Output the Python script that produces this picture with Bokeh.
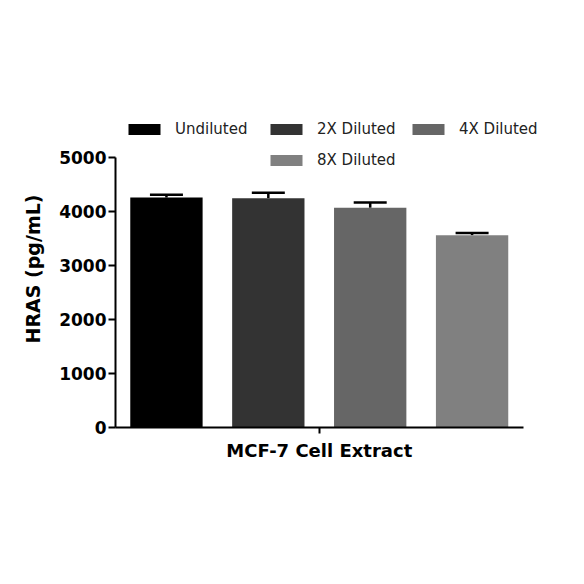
from bokeh.plotting import figure
from bokeh.models import (ColumnDataSource, Range1d, FixedTicker, Whisker, TeeHead,
                          Legend, LegendItem)
from bokeh.embed import file_html
from bokeh.resources import INLINE

series = ["Undiluted", "2X Diluted", "4X Diluted", "8X Diluted"]
values = [4260, 4245, 4070, 3560]
errors = [50, 100, 95, 40]
colors = ["#000000", "#333333", "#666666", "#808080"]
group_label = "MCF-7 Cell Extract"
y_ticks = [0, 1000, 2000, 3000, 4000, 5000]
y_title = "HRAS (pg/mL)"

FONT = "DejaVu Sans"

n = len(series)
xs = [i + 0.5 for i in range(n)]
src = ColumnDataSource(dict(
    x=xs, top=values, upper=[v + e for v, e in zip(values, errors)],
    color=colors, name=series))

p = figure(width=568, height=568, output_backend="svg", toolbar_location=None,
           x_range=Range1d(0, n + 0.25), y_range=Range1d(0, 5870),
           min_border_left=115, min_border_right=20, min_border_top=110,
           min_border_bottom=141)
p.outline_line_color = None
p.xgrid.visible = False
p.ygrid.visible = False

bars = []
for i in range(n):
    r = p.vbar(x=[xs[i]], top=[values[i]], width=0.71, bottom=0,
               fill_color=colors[i], line_color=None)
    bars.append(r)

w = Whisker(source=src, base="x", upper="upper", lower="top", dimension="height",
            line_color="black", line_width=2.5, lower_head=None,
            upper_head=TeeHead(size=33, line_color="black", line_width=2.5))
p.add_layout(w)

# y axis
ya = p.yaxis[0]
ya.ticker = FixedTicker(ticks=y_ticks)
ya.bounds = (0, 5000)
ya.axis_line_width = 2
ya.major_tick_line_width = 2
ya.major_tick_out = 7
ya.major_tick_in = 0
ya.minor_tick_line_color = None
ya.major_label_text_font = FONT
ya.major_label_text_font_style = "bold"
ya.major_label_text_font_size = "17px"
ya.major_label_text_color = "black"
ya.major_label_standoff = 2
ya.axis_label = y_title
ya.axis_label_text_font = FONT
ya.axis_label_text_font_style = "bold"
ya.axis_label_text_font_size = "19px"
ya.axis_label_text_color = "black"
ya.axis_label_standoff = 12

# x axis
xa = p.xaxis[0]
xa.ticker = FixedTicker(ticks=[n / 2])
xa.major_label_overrides = {n / 2: group_label}
xa.bounds = (0, n)
xa.axis_line_width = 2
xa.major_tick_line_width = 2
xa.major_tick_out = 6
xa.major_tick_in = 0
xa.minor_tick_line_color = None
xa.major_label_text_font = FONT
xa.major_label_text_font_style = "bold"
xa.major_label_text_font_size = "18px"
xa.major_label_text_color = "black"
xa.major_label_standoff = 6

# legends: one per item, positioned in frame pixel units
legend_locs = [(9, 289), (151, 289), (293, 289), (151, 258)]
for i in range(n):
    lg = Legend(items=[LegendItem(label=series[i], renderers=[bars[i]])],
                location=legend_locs[i], padding=0, margin=0, border_line_color=None,
                background_fill_alpha=0, glyph_width=40, glyph_height=14,
                label_standoff=11, label_text_font=FONT, label_text_font_size="15px",
                label_text_color="#222222", label_height=14)
    p.add_layout(lg, "center")

open("out.html", "w").write(file_html(p, INLINE))
